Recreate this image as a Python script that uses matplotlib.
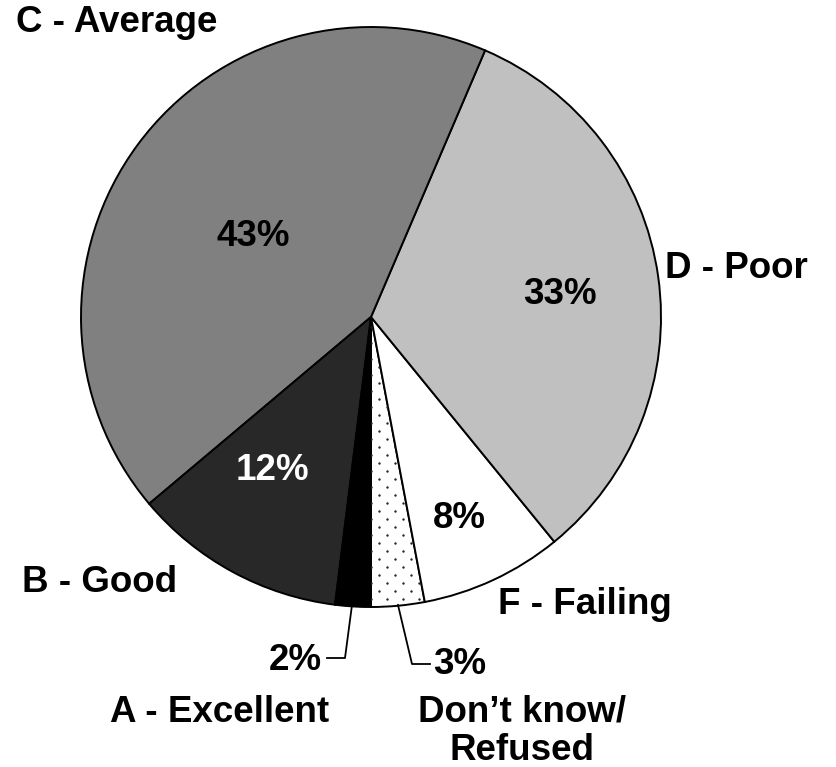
import numpy as np
import matplotlib.pyplot as plt

plt.rcParams['font.family'] = ['Liberation Sans', 'DejaVu Sans']

# slices, counter-clockwise from the bottom
categories = ["Don\u2019t know/", "F - Failing", "D - Poor", "C - Average", "B - Good", "A - Excellent"]
shares = [3, 8, 33, 43, 12, 2]
pct_labels = [f"{v}%" for v in shares]
colors = ['white', 'white', '#c0c0c0', '#808080', '#282828', 'black']

W, H = 836, 767
fig = plt.figure(figsize=(W / 100, H / 100), dpi=100)
ax = fig.add_axes([0, 0, 1, 1])

cx, cy, r = 371, H - 317, 290
wedges, _ = ax.pie(shares, colors=colors, startangle=270, counterclock=True,
                   center=(cx, cy), radius=r, frame=True,
                   wedgeprops=dict(edgecolor='black', linewidth=1.4))
ax.set_xlim(0, W)
ax.set_ylim(0, H)
ax.set_aspect('auto')
ax.axis('off')

# sparse dot pattern in the "Don't know" slice
gx, gy = [], []
for j, yy in enumerate(np.arange(cy - r, cy, 8)):
    off = 8 if j % 2 else 0
    for xx in np.arange(cx - 24 + off, cx + 80, 16):
        gx.append(xx)
        gy.append(yy)
dots = ax.scatter(gx, gy, s=3, color='#222222', zorder=3, linewidths=0)
dots.set_clip_path(wedges[0])

bold = dict(fontweight='bold', fontsize=26.5)

# percentage labels inside slices
ax.text(459, H - 519, pct_labels[1], ha='center', va='center', **bold)
ax.text(560, H - 295, pct_labels[2], ha='center', va='center', **bold)
ax.text(253, H - 237, pct_labels[3], ha='center', va='center', **bold)
ax.text(272, H - 470, pct_labels[4], ha='center', va='center', color='white', **bold)

# small slices with leader lines
ax.plot([352, 345, 327], [H - 605, H - 658, H - 658], color='black', lw=1.3)
ax.text(322, H - 660, pct_labels[5], ha='right', va='center', **bold)
ax.plot([398, 412, 430], [H - 605, H - 664, H - 664], color='black', lw=1.3)
ax.text(433, H - 664, pct_labels[0], ha='left', va='center', **bold)

# category labels
ax.text(16, H - 22, categories[3], ha='left', va='center', **bold)
ax.text(665, H - 268, categories[2], ha='left', va='center', **bold)
ax.text(22, H - 582, categories[4], ha='left', va='center', **bold)
ax.text(498, H - 605, categories[1], ha='left', va='center', **bold)
ax.text(220, H - 712, categories[5], ha='center', va='center', **bold)
ax.text(522, H - 712, categories[0], ha='center', va='center', **bold)
ax.text(522, H - 750, 'Refused', ha='center', va='center', **bold)

fig.savefig('out.png', dpi=100)
